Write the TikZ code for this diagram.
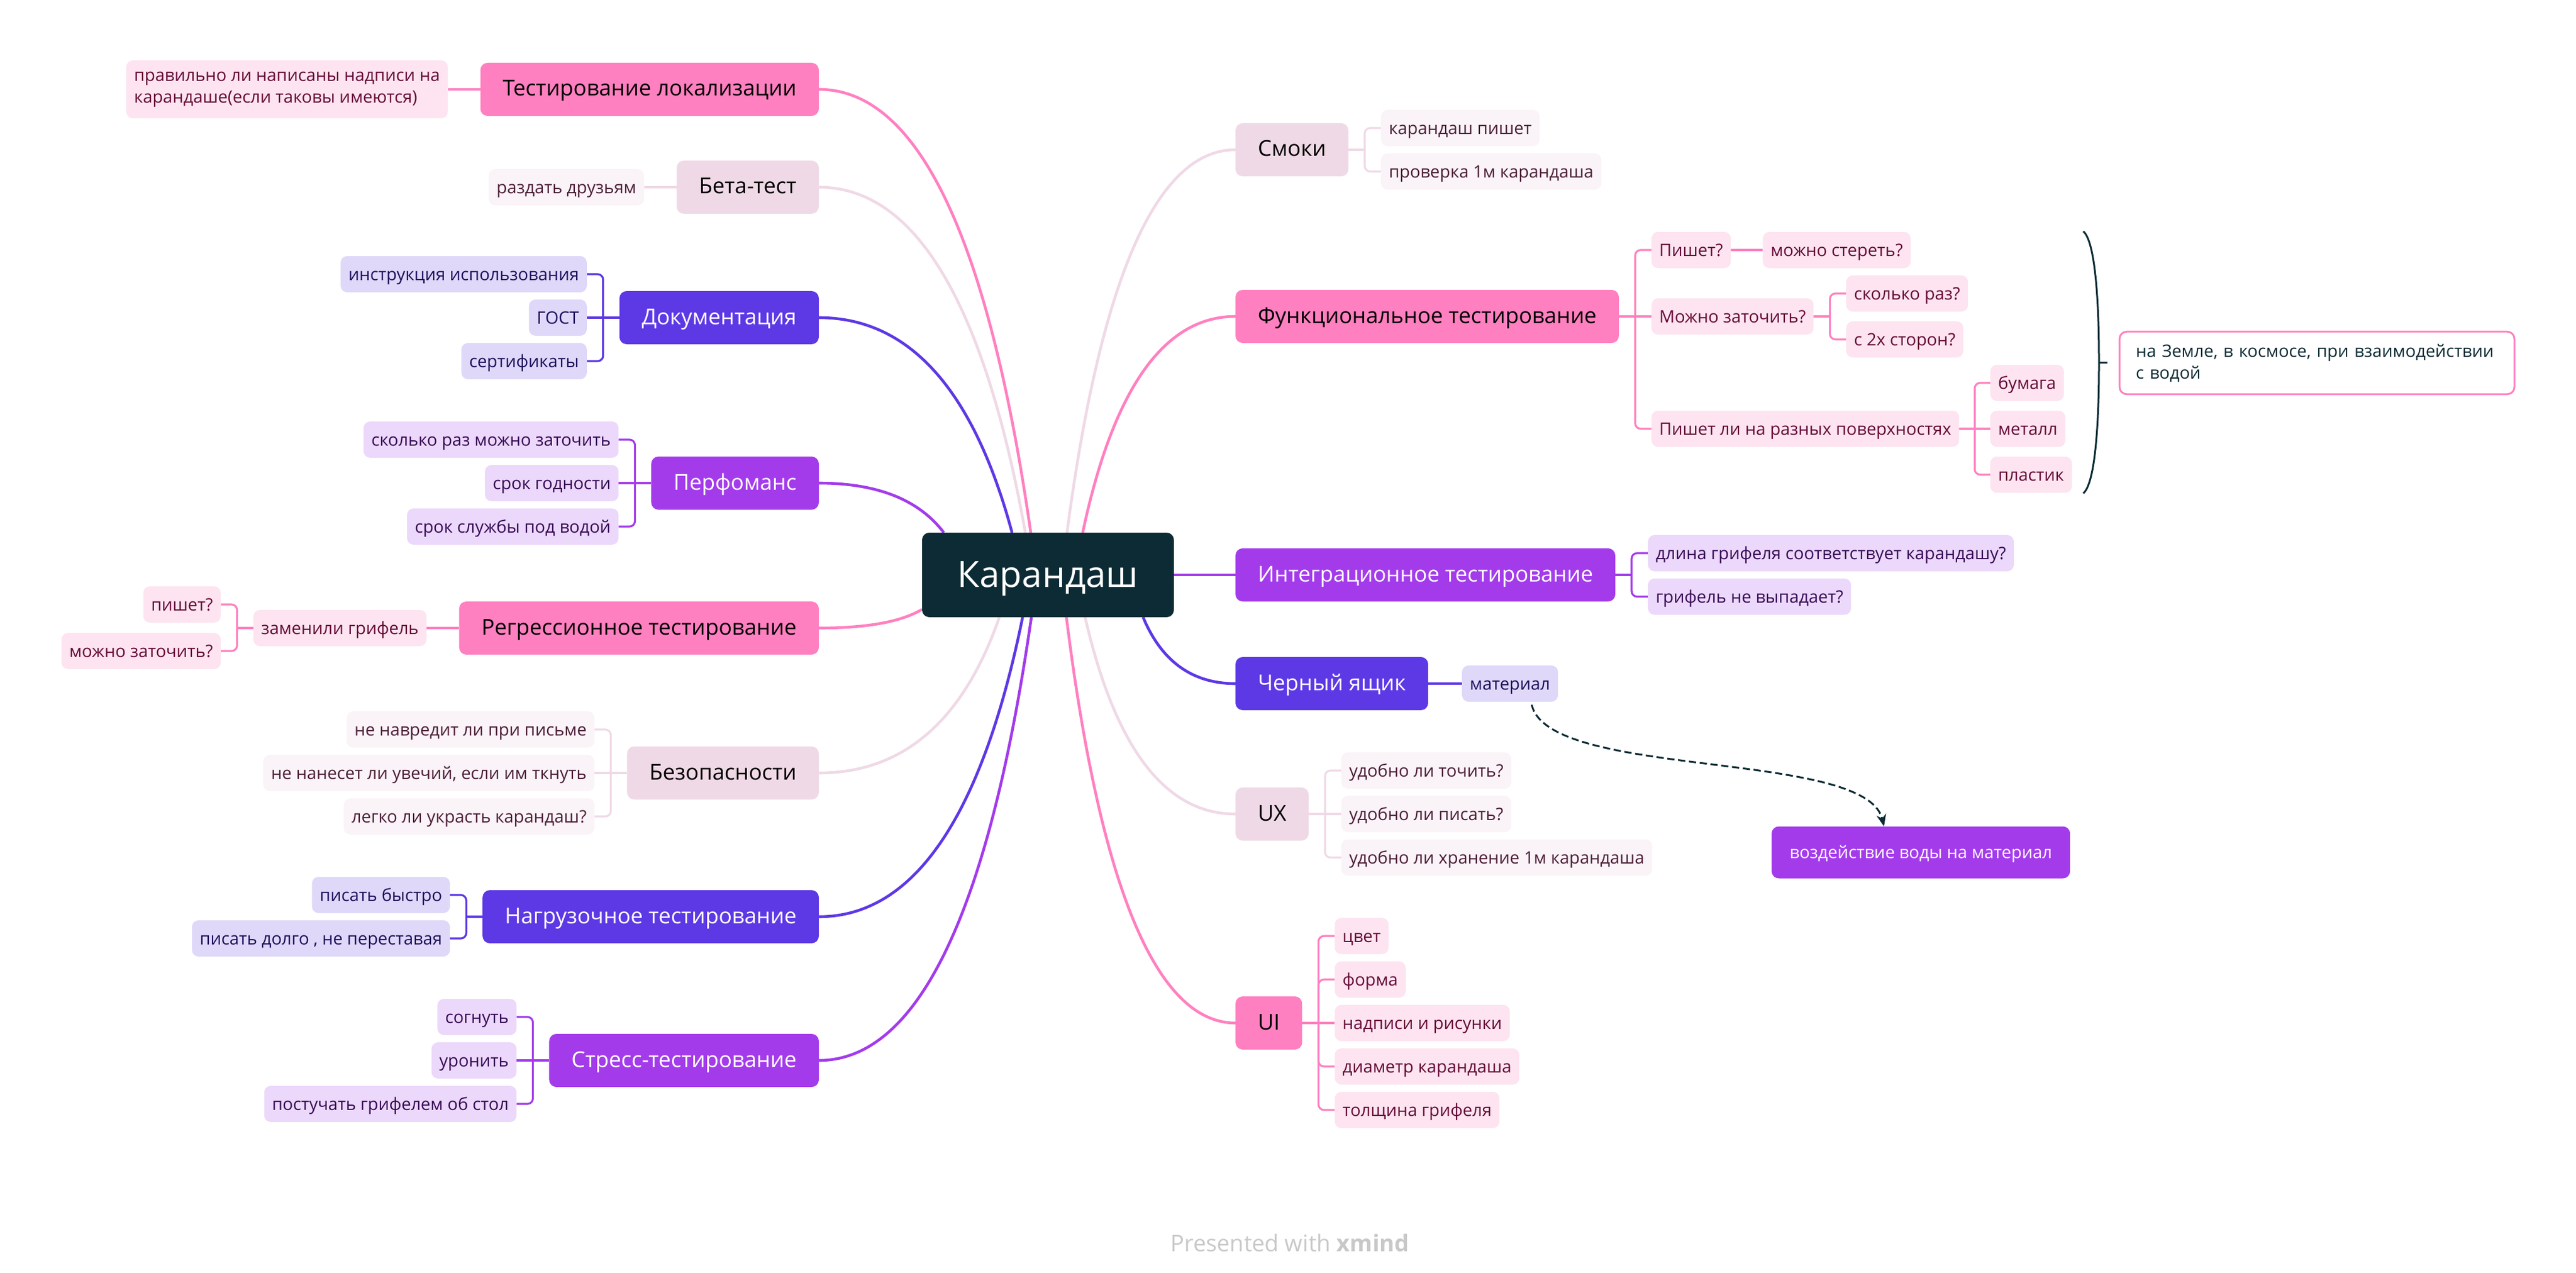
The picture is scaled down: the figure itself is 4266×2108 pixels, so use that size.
\documentclass[tikz,border=0pt]{standalone}
\usepackage{fontspec}
\setmainfont{Open Sans}
\usetikzlibrary{calc,arrows.meta,backgrounds}
\definecolor{cK}{HTML}{0C2B34}
\definecolor{cPink}{HTML}{FF80C0}
\definecolor{cLight}{HTML}{F0D9E6}
\definecolor{cBlue}{HTML}{5D38E5}
\definecolor{cPurp}{HTML}{A33BEB}
\definecolor{sPink}{HTML}{FDE4F0}
\definecolor{sLight}{HTML}{FAF3F7}
\definecolor{sBlue}{HTML}{DFD8F9}
\definecolor{sPurp}{HTML}{ECD8FA}
\definecolor{tPink}{HTML}{650A37}
\definecolor{tLight}{HTML}{4B1E37}
\definecolor{tBlue}{HTML}{1E0F5A}
\definecolor{tPurp}{HTML}{370A55}
\definecolor{cFoot}{HTML}{C8C8C8}
\tikzset{
  base/.style={rounded corners=6pt, inner ysep=0pt, outer sep=0pt},
  topic/.style={base, minimum height=44pt, inner xsep=18.5pt, font=\fontsize{18.1}{22}\selectfont, text height=15pt, text depth=4pt},
  mpink/.style={topic, fill=cPink, text=black},
  mlight/.style={topic, fill=cLight, text=black},
  mblue/.style={topic, fill=cBlue, text=white},
  mpurp/.style={topic, fill=cPurp, text=white},
  sub/.style={base, rounded corners=5.5pt, minimum height=30pt, inner xsep=6.5pt, font=\fontsize{14.2}{18}\selectfont, text height=12pt, text depth=1.7pt},
  spink/.style={sub, fill=sPink, text=tPink},
  slight/.style={sub, fill=sLight, text=tLight},
  sblue/.style={sub, fill=sBlue, text=tBlue},
  spurp/.style={sub, fill=sPurp, text=tPurp},
  mc/.style={line width=2.3pt, to path={let \p1=(\tikztostart), \p2=(\tikztotarget) in .. controls ({\x1+0.4667*(\x2-\x1)},\y1) and ({\x2-0.2*(\x2-\x1)},{\y2+0.6667*(\y1-\y2)}) .. (\tikztotarget)}},
  sc/.style={line width=1.6pt, rounded corners=4.5pt},
}
\begin{document}
\begin{tikzpicture}[x=0.5pt,y=-0.5pt]
\useasboundingbox (0,0) rectangle (4266,2108);

% central
\node[base, fill=cK, text=white, minimum width=208.5pt, minimum height=70pt, inner xsep=0pt, font=\fontsize{30}{36}\selectfont, text height=25pt, text depth=4.3pt] (K) at (1735.5,952) {Карандаш};

% ---------- left side ----------
\node[mpink,anchor=east] (L1) at (1356,148) {Тестирование локализации};
\node[spink,anchor=east,xshift=-27pt,align=left,text height={},text depth={},minimum height=48pt] (L1a) at (L1.west) {правильно ли написаны надписи на\\карандаше(если таковы имеются)};

\node[mlight,anchor=east] (L2) at (1356,310) {Бета-тест};
\node[slight,anchor=east,xshift=-27pt] (L2a) at (L2.west) {раздать друзьям};

\node[mblue,anchor=east] (L3) at (1356,526) {Документация};
\node[sblue,anchor=east,xshift=-27pt,yshift=36pt] (L3a) at (L3.west) {инструкция использования};
\node[sblue,anchor=east,xshift=-27pt] (L3b) at (L3.west) {ГОСТ};
\node[sblue,anchor=east,xshift=-27pt,yshift=-36pt] (L3c) at (L3.west) {сертификаты};

\node[mpurp,anchor=east] (L4) at (1356,800) {Перфоманс};
\node[spurp,anchor=east,xshift=-27pt,yshift=36pt] (L4a) at (L4.west) {сколько раз можно заточить};
\node[spurp,anchor=east,xshift=-27pt] (L4b) at (L4.west) {срок годности};
\node[spurp,anchor=east,xshift=-27pt,yshift=-36pt] (L4c) at (L4.west) {срок службы под водой};

\node[mpink,anchor=east] (L5) at (1356,1040) {Регрессионное тестирование};
\node[spink,anchor=east,xshift=-27pt] (L5a) at (L5.west) {заменили грифель};
\node[spink,anchor=east,xshift=-27pt,yshift=19.5pt] (L5b) at (L5a.west) {пишет?};
\node[spink,anchor=east,xshift=-27pt,yshift=-19pt] (L5c) at (L5a.west) {можно заточить?};

\node[mlight,anchor=east] (L6) at (1356,1280) {Безопасности};
\node[slight,anchor=east,xshift=-27pt,yshift=36pt] (L6a) at (L6.west) {не навредит ли при письме};
\node[slight,anchor=east,xshift=-27pt] (L6b) at (L6.west) {не нанесет ли увечий, если им ткнуть};
\node[slight,anchor=east,xshift=-27pt,yshift=-36pt] (L6c) at (L6.west) {легко ли украсть карандаш?};

\node[mblue,anchor=east] (L7) at (1356,1518) {Нагрузочное тестирование};
\node[sblue,anchor=east,xshift=-27pt,yshift=18pt] (L7a) at (L7.west) {писать быстро};
\node[sblue,anchor=east,xshift=-27pt,yshift=-18pt] (L7b) at (L7.west) {писать долго , не переставая};

\node[mpurp,anchor=east] (L8) at (1356,1756) {Стресс-тестирование};
\node[spurp,anchor=east,xshift=-27pt,yshift=36pt] (L8a) at (L8.west) {согнуть};
\node[spurp,anchor=east,xshift=-27pt] (L8b) at (L8.west) {уронить};
\node[spurp,anchor=east,xshift=-27pt,yshift=-36pt] (L8c) at (L8.west) {постучать грифелем об стол};

% ---------- right side ----------
\node[mlight,anchor=west] (R1) at (2046,248) {Смоки};
\node[slight,anchor=west,xshift=27pt,yshift=18pt] (R1a) at (R1.east) {карандаш пишет};
\node[slight,anchor=west,xshift=27pt,yshift=-18pt] (R1b) at (R1.east) {проверка 1м карандаша};

\node[mpink,anchor=west] (R2) at (2046,524) {Функциональное тестирование};
\node[spink,anchor=west,xshift=27pt,yshift=55pt] (R2a) at (R2.east) {Пишет?};
\node[spink,anchor=west,xshift=26.5pt] (R2a1) at (R2a.east) {можно стереть?};
\node[spink,anchor=west,xshift=27pt] (R2b) at (R2.east) {Можно заточить?};
\node[spink,anchor=west,xshift=27pt,yshift=19pt] (R2b1) at (R2b.east) {сколько раз?};
\node[spink,anchor=west,xshift=27pt,yshift=-19pt] (R2b2) at (R2b.east) {с 2х сторон?};
\node[spink,anchor=west,xshift=27pt,yshift=-93pt] (R2c) at (R2.east) {Пишет ли на разных поверхностях};
\node[spink,anchor=west] (R2c1) at (3296,634) {бумага};
\node[spink,anchor=west] (R2c2) at (3296,710) {металл};
\node[spink,anchor=west] (R2c3) at (3296,786) {пластик};

\node[mpurp,anchor=west] (R3) at (2046,952) {Интеграционное тестирование};
\node[spurp,anchor=west,xshift=27pt,yshift=18pt] (R3a) at (R3.east) {длина грифеля соответствует карандашу?};
\node[spurp,anchor=west,xshift=27pt,yshift=-18pt] (R3b) at (R3.east) {грифель не выпадает?};

\node[mblue,anchor=west] (R4) at (2046,1132) {Черный ящик};
\node[sblue,anchor=west,xshift=28pt] (R4a) at (R4.east) {материал};

\node[mlight,anchor=west] (R5) at (2046,1348) {UX};
\node[slight,anchor=west,xshift=27pt,yshift=36pt] (R5a) at (R5.east) {удобно ли точить?};
\node[slight,anchor=west,xshift=27pt] (R5b) at (R5.east) {удобно ли писать?};
\node[slight,anchor=west,xshift=27pt,yshift=-36pt] (R5c) at (R5.east) {удобно ли хранение 1м карандаша};

\node[mpink,anchor=west] (R6) at (2046,1694) {UI};
\node[spink,anchor=west,xshift=27pt,yshift=72pt] (R6a) at (R6.east) {цвет};
\node[spink,anchor=west,xshift=27pt,yshift=36pt] (R6b) at (R6.east) {форма};
\node[spink,anchor=west,xshift=27pt] (R6c) at (R6.east) {надписи и рисунки};
\node[spink,anchor=west,xshift=27pt,yshift=-36pt] (R6d) at (R6.east) {диаметр карандаша};
\node[spink,anchor=west,xshift=27pt,yshift=-72pt] (R6e) at (R6.east) {толщина грифеля};

% floating topic
\node[base, fill=cPurp, text=white, minimum height=43pt, inner xsep=15pt, font=\fontsize{14.2}{18}\selectfont, text height=12pt, text depth=1.7pt] (F1) at (3181,1411.5) {воздействие воды на материал};

% summary
\node[base, anchor=west, fill=white, draw=cPink, line width=1.5pt, text=cK, align=left, text width=300pt, minimum height=51.8pt, inner xsep=13.5pt, font=\fontsize{14.2}{18}\selectfont] (S) at (3510,601) {на Земле, в космосе, при взаимодействии\\с водой};

% footer
\node[anchor=base, text=cFoot, font=\fontsize{19}{23}\selectfont] (foot) at (2136,2072) {Presented with \textbf{xmind}};

\begin{scope}[on background layer]
\fill[white] (0,0) rectangle (4266,2108);
% attachment points on the central topic
\coordinate (kL1) at ($(K.north west)+(180,0)$);
\coordinate (kL2) at ($(K.north west)+(171,0)$);
\coordinate (kL3) at ($(K.north west)+(149,0)$);
\coordinate (kL4) at ($(K.north west)+(36,0)$);
\coordinate (kL5) at ($(K.west)+(0,57)$);
\coordinate (kL6) at ($(K.south west)+(128,0)$);
\coordinate (kL7) at ($(K.south west)+(166.5,0)$);
\coordinate (kL8) at ($(K.south west)+(181,0)$);
\coordinate (kR1) at ($(K.north west)+(240,0)$);
\coordinate (kR2) at ($(K.north west)+(266,0)$);
\coordinate (kR4) at ($(K.south west)+(366,0)$);
\coordinate (kR5) at ($(K.south west)+(270,0)$);
\coordinate (kR6) at ($(K.south west)+(239,0)$);

\draw[mc,cPink]  (L1.east) to (kL1);
\draw[mc,cLight] (L2.east) to (kL2);
\draw[mc,cBlue]  (L3.east) to (kL3);
\draw[mc,cPurp]  (L4.east) to (kL4);
\draw[mc,cPink]  (L5.east) to (kL5);
\draw[mc,cLight] (L6.east) to (kL6);
\draw[mc,cBlue]  (L7.east) to (kL7);
\draw[mc,cPurp]  (L8.east) to (kL8);
\draw[mc,cLight] (R1.west) to (kR1);
\draw[mc,cPink]  (R2.west) to (kR2);
\draw[line width=2.3pt,cPurp] (K.east) -- (R3.west);
\draw[mc,cBlue]  (R4.west) to (kR4);
\draw[mc,cLight] (R5.west) to (kR5);
\draw[mc,cPink]  (R6.west) to (kR6);

% sub connectors, left
\draw[sc,cPink] (L1.west) -- (L1a.east);
\draw[sc,cLight] (L2.west) -- (L2a.east);
\draw[sc,cBlue] (L3.west) -- ++(-13.5pt,0) coordinate (jL3);
\draw[sc,cBlue] (jL3) |- (L3a.east);
\draw[sc,cBlue] (jL3) -- (L3b.east);
\draw[sc,cBlue] (jL3) |- (L3c.east);
\draw[sc,cPurp] (L4.west) -- ++(-13.5pt,0) coordinate (jL4);
\draw[sc,cPurp] (jL4) |- (L4a.east);
\draw[sc,cPurp] (jL4) -- (L4b.east);
\draw[sc,cPurp] (jL4) |- (L4c.east);
\draw[sc,cPink] (L5.west) -- (L5a.east);
\draw[sc,cPink] (L5a.west) -- ++(-13.5pt,0) coordinate (jL5);
\draw[sc,cPink] (jL5) |- (L5b.east);
\draw[sc,cPink] (jL5) |- (L5c.east);
\draw[sc,cLight] (L6.west) -- ++(-13.5pt,0) coordinate (jL6);
\draw[sc,cLight] (jL6) |- (L6a.east);
\draw[sc,cLight] (jL6) -- (L6b.east);
\draw[sc,cLight] (jL6) |- (L6c.east);
\draw[sc,cBlue] (L7.west) -- ++(-13.5pt,0) coordinate (jL7);
\draw[sc,cBlue] (jL7) |- (L7a.east);
\draw[sc,cBlue] (jL7) |- (L7b.east);
\draw[sc,cPurp] (L8.west) -- ++(-13.5pt,0) coordinate (jL8);
\draw[sc,cPurp] (jL8) |- (L8a.east);
\draw[sc,cPurp] (jL8) -- (L8b.east);
\draw[sc,cPurp] (jL8) |- (L8c.east);

% sub connectors, right
\draw[sc,cLight] (R1.east) -- ++(13.5pt,0) coordinate (jR1);
\draw[sc,cLight] (jR1) |- (R1a.west);
\draw[sc,cLight] (jR1) |- (R1b.west);
\draw[sc,cPink] (R2.east) -- ++(13.5pt,0) coordinate (jR2);
\draw[sc,cPink] (jR2) |- (R2a.west);
\draw[sc,cPink] (jR2) -- (R2b.west);
\draw[sc,cPink] (jR2) |- (R2c.west);
\draw[sc,cPink] (R2a.east) -- (R2a1.west);
\draw[sc,cPink] (R2b.east) -- ++(13.5pt,0) coordinate (jR2b);
\draw[sc,cPink] (jR2b) |- (R2b1.west);
\draw[sc,cPink] (jR2b) |- (R2b2.west);
\path (R2c.east) -- (R2c2.west) coordinate[midway] (jR2c);
\draw[sc,cPink] (R2c.east) -- (jR2c);
\draw[sc,cPink] (jR2c) |- (R2c1.west);
\draw[sc,cPink] (jR2c) -- (R2c2.west);
\draw[sc,cPink] (jR2c) |- (R2c3.west);
\draw[sc,cPurp] (R3.east) -- ++(13.5pt,0) coordinate (jR3);
\draw[sc,cPurp] (jR3) |- (R3a.west);
\draw[sc,cPurp] (jR3) |- (R3b.west);
\draw[sc,cBlue] (R4.east) -- (R4a.west);
\draw[sc,cLight] (R5.east) -- ++(13.5pt,0) coordinate (jR5);
\draw[sc,cLight] (jR5) |- (R5a.west);
\draw[sc,cLight] (jR5) -- (R5b.west);
\draw[sc,cLight] (jR5) |- (R5c.west);
\draw[sc,cPink] (R6.east) -- ++(13.5pt,0) coordinate (jR6);
\draw[sc,cPink] (jR6) |- (R6a.west);
\draw[sc,cPink] (jR6) |- (R6b.west);
\draw[sc,cPink] (jR6) -- (R6c.west);
\draw[sc,cPink] (jR6) |- (R6d.west);
\draw[sc,cPink] (jR6) |- (R6e.west);
\end{scope}

% summary brace
\coordinate (bTop) at (3450,383);
\coordinate (bMid) at (3476,600);
\coordinate (bBot) at (3450,817);
\draw[cK, line width=1.5pt] (bTop) .. controls (3470,400) and (3476,500) .. (bMid) .. controls (3476,700) and (3470,800) .. (bBot);
\draw[cK, line width=1.5pt] (bMid) -- (3490,600);

% relationship arrow
\draw[cK, line width=1.5pt, dash pattern=on 6pt off 3pt, -{Stealth[length=10pt,width=8pt]}]
  ([xshift=18pt,yshift=-2.5pt]R4a.south) .. controls +(14pt,-62pt) and +(-15pt,64pt) .. ([xshift=-30.5pt]F1.north);
\end{tikzpicture}
\end{document}
